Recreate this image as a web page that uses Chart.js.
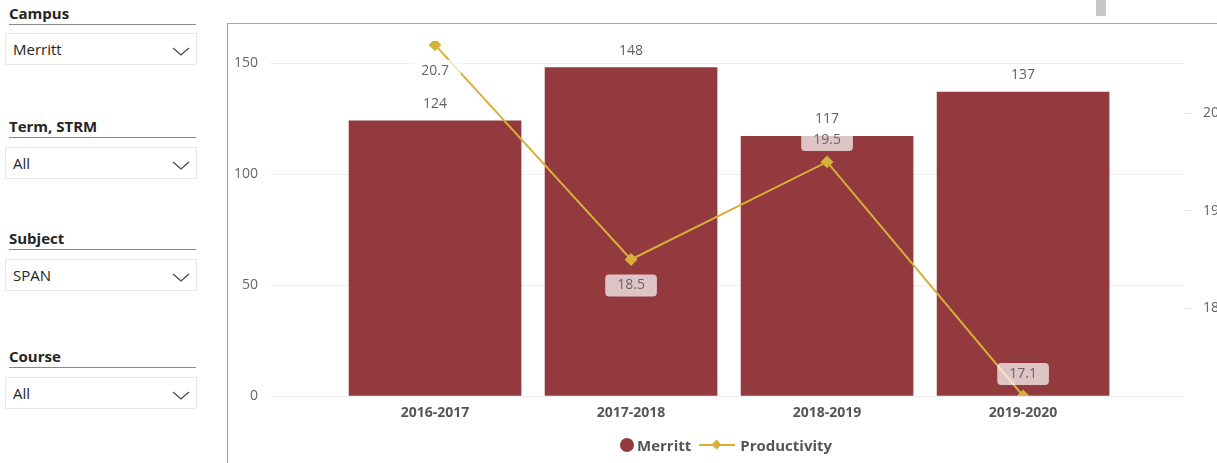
<!DOCTYPE html>
<html>
<head>
<meta charset="utf-8">
<script src="https://cdn.jsdelivr.net/npm/chart.js@4.4.1/dist/chart.umd.min.js"></script>
<style>
  body { margin: 0; width: 1217px; height: 463px; overflow: hidden; background: #fff; font-family: 'Open Sans', sans-serif; position: relative; }
  .slicer-title { position: absolute; left: 9px; width: 187px; font-size: 15px; font-weight: 700; color: #252423; border-bottom: 1px solid #8a8a8a; line-height: 20px; padding-bottom: 1px; }
  .slicer-box { position: absolute; left: 5px; width: 192px; height: 32px; border: 1px solid #e8e8e8; box-sizing: border-box; font-size: 15px; color: #252423; line-height: 30px; padding-left: 7px; }
  .slicer-box svg { position: absolute; right: 6px; top: 13px; }
  #frame-left { position: absolute; left: 227px; top: 23px; width: 1px; height: 440px; background: #9a9a9a; }
  #frame-top { position: absolute; left: 227px; top: 23px; width: 990px; height: 1px; background: #a8a8a8; }
  #scrollbit { position: absolute; left: 1096px; top: 0; width: 10px; height: 16px; background: #c8c8c8; }
  #chartBox { position: absolute; left: 228px; top: 24px; width: 989px; height: 439px; }
  #legend { position: absolute; left: 620px; top: 435px; display: flex; align-items: center; font-size: 15px; font-weight: 700; color: #555; white-space: nowrap; }
  #legend .dot { width: 14px; height: 14px; border-radius: 50%; background: #933a3e; margin-right: 3px; }
  #legend .ln { position: relative; width: 36px; height: 2px; background: #d6b038; margin: 0 5px 0 8px; }
  #legend .ln::after { content: ''; position: absolute; left: 14px; top: -3px; width: 7px; height: 7px; background: #d6b038; transform: rotate(45deg); }
</style>
</head>
<body>
<div class="slicer-title" style="top:3px">Campus</div>
<div class="slicer-box" style="top:33px">Merritt<svg width="18" height="9"><polyline points="1,1 9,8 17,1" fill="none" stroke="#444" stroke-width="1.2"/></svg></div>
<div class="slicer-title" style="top:116px">Term, STRM</div>
<div class="slicer-box" style="top:147px">All<svg width="18" height="9"><polyline points="1,1 9,8 17,1" fill="none" stroke="#444" stroke-width="1.2"/></svg></div>
<div class="slicer-title" style="top:228px">Subject</div>
<div class="slicer-box" style="top:259px">SPAN<svg width="18" height="9"><polyline points="1,1 9,8 17,1" fill="none" stroke="#444" stroke-width="1.2"/></svg></div>
<div class="slicer-title" style="top:346px">Course</div>
<div class="slicer-box" style="top:377px">All<svg width="18" height="9"><polyline points="1,1 9,8 17,1" fill="none" stroke="#444" stroke-width="1.2"/></svg></div>

<div id="scrollbit"></div>
<div id="frame-top"></div>
<div id="frame-left"></div>
<div id="chartBox"><canvas id="combo"></canvas></div>
<div id="legend"><span class="dot"></span>Merritt<span class="ln"></span>Productivity</div>

<script>
// data
const categories = ['2016-2017', '2017-2018', '2018-2019', '2019-2020'];
const merritt = [124, 148, 117, 137];
const productivity = [20.7, 18.5, 19.5, 17.1];
const leftTicks = [0, 50, 100, 150];
const rightTicks = [18, 19, 20];

const barColor = '#933a3e';
const lineColor = '#d6b038';

Chart.defaults.font.family = "'Open Sans', sans-serif";

// data labels like Power BI (no datalabels plugin offline)
const valueLabels = {
    id: 'valueLabels',
    afterDatasetsDraw(chart) {
        const ctx = chart.ctx;
        ctx.save();
        ctx.font = "14px 'Open Sans', sans-serif";
        ctx.textAlign = 'center';
        ctx.textBaseline = 'middle';

        // bar values above the bars
        chart.getDatasetMeta(0).data.forEach((bar, i) => {
            ctx.fillStyle = '#605e5c';
            ctx.fillText(merritt[i], bar.x, bar.y - 17);
        });

        // line values in a soft white box
        const below = [true, true, false, false];
        chart.getDatasetMeta(1).data.forEach((pt, i) => {
            const txt = productivity[i].toFixed(1);
            const cy = below[i] ? pt.y + 26 : pt.y - 22;
            const w = ctx.measureText(txt).width + 24;
            const h = 22;
            ctx.fillStyle = 'rgba(255,255,255,0.7)';
            ctx.beginPath();
            ctx.roundRect(pt.x - w / 2, cy - h / 2, w, h, 4);
            ctx.fill();
            ctx.fillStyle = '#6b6464';
            ctx.fillText(txt, pt.x, cy);
        });
        ctx.restore();
    }
};

// y axes: fixed width, no extra label padding so the plot top is where we want it
const fitY = (w) => (s) => { s.width = w; s.paddingTop = 0; s.paddingBottom = 0; };

const ctx = document.getElementById('combo').getContext('2d');
const chart = new Chart(ctx, {
    type: 'bar',
    data: {
        datasets: [{
            type: 'bar',
            label: 'Merritt',
            data: merritt.map((v, i) => ({ x: i, y: v })),
            backgroundColor: barColor,
            barThickness: 172,
            yAxisID: 'y',
            order: 1
        }, {
            type: 'line',
            label: 'Productivity',
            data: productivity.map((v, i) => ({ x: i, y: v })),
            borderColor: lineColor,
            backgroundColor: lineColor,
            borderWidth: 2,
            pointStyle: 'rectRot',
            pointRadius: 5,
            pointHoverRadius: 5,
            tension: 0,
            yAxisID: 'y1',
            order: 0
        }]
    },
    plugins: [valueLabels],
    options: {
        responsive: true,
        maintainAspectRatio: false,
        animation: false,
        layout: { autoPadding: false, padding: { top: 17, bottom: 0, left: 0, right: 0 } },
        plugins: {
            legend: { display: false },
            tooltip: { enabled: false }
        },
        scales: {
            x: {
                type: 'linear',
                min: -0.842,
                max: 3.821,
                offset: false,
                grid: { display: false },
                border: { display: false },
                afterBuildTicks: (s) => { s.ticks = categories.map((c, i) => ({ value: i })); },
                afterFit: (s) => { s.height = 67; },
                ticks: {
                    autoSkip: false,
                    maxRotation: 0,
                    padding: 1,
                    color: '#555',
                    font: { size: 14, weight: 'bold' },
                    callback: (v) => categories[v]
                }
            },
            y: {
                position: 'left',
                min: 0,
                max: 160,
                afterBuildTicks: (s) => { s.ticks = leftTicks.map(v => ({ value: v })); },
                afterFit: fitY(42),
                grid: { color: '#ededed', drawTicks: false },
                border: { display: false },
                ticks: { padding: 12, color: '#666', font: { size: 14 } }
            },
            y1: {
                position: 'right',
                min: 17.1,
                max: 20.74,
                afterBuildTicks: (s) => { s.ticks = rightTicks.map(v => ({ value: v })); },
                afterFit: fitY(33),
                grid: { drawOnChartArea: false, drawTicks: true, tickLength: 7, tickColor: '#e3e3e3' },
                border: { display: false },
                ticks: { padding: 12, color: '#666', font: { size: 14 } }
            }
        }
    }
});
</script>
</body>
</html>
